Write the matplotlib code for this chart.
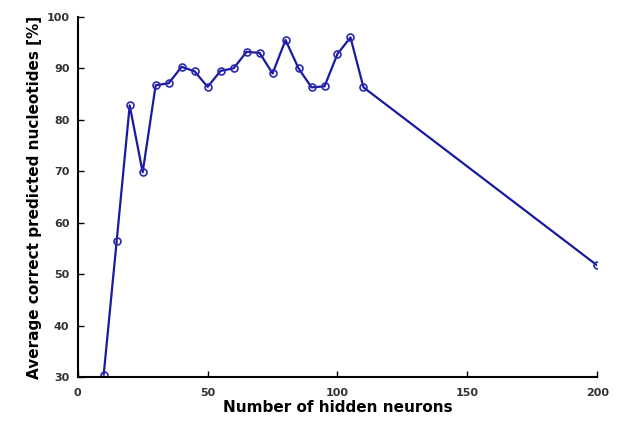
import matplotlib
matplotlib.use('Agg')
import matplotlib.pyplot as plt

# hidden neurons vs. average correct predicted nucleotides [%]
neurons = [10, 15, 20, 25, 30, 35, 40, 45, 50, 55, 60, 65, 70, 75, 80, 85, 90, 95, 100, 105, 110, 200]
accuracy = [30.5, 56.5, 82.8, 69.8, 86.7, 87.1, 90.3, 89.4, 86.4, 89.5, 90.0, 93.2, 93.0, 89.0,
            95.5, 90.0, 86.3, 86.5, 92.8, 96.0, 86.3, 51.7]

xticks = [0, 50, 100, 150, 200]
yticks = [30, 40, 50, 60, 70, 80, 90, 100]

fig = plt.figure(figsize=(6.17, 4.32), dpi=100)
ax = fig.add_axes([0.126, 0.127, 0.842, 0.834])

ax.plot(neurons, accuracy, color='#1a1aa0', lw=1.6, marker='o', ms=5,
        markerfacecolor='none', markeredgecolor='#2a2ab0', markeredgewidth=1.2)

ax.set_xlim(0, 200)
ax.set_ylim(30, 100)
ax.set_xticks(xticks)
ax.set_yticks(yticks)
ax.tick_params(direction='in', length=4, width=1, labelsize=8)
ax.tick_params(axis='x', pad=8)
ax.tick_params(axis='y', pad=6)
for t in ax.get_xticklabels() + ax.get_yticklabels():
    t.set_fontweight('bold')
    t.set_color('#333333')

ax.spines['top'].set_visible(False)
ax.spines['right'].set_visible(False)
ax.spines['left'].set_linewidth(1.5)
ax.spines['bottom'].set_linewidth(1.5)

ax.set_xlabel('Number of hidden neurons', fontsize=11, fontweight='bold', labelpad=1)
ax.set_ylabel('Average correct predicted nucleotides [%]', fontsize=11, fontweight='bold', labelpad=3)

fig.savefig('out.png', dpi=100)
